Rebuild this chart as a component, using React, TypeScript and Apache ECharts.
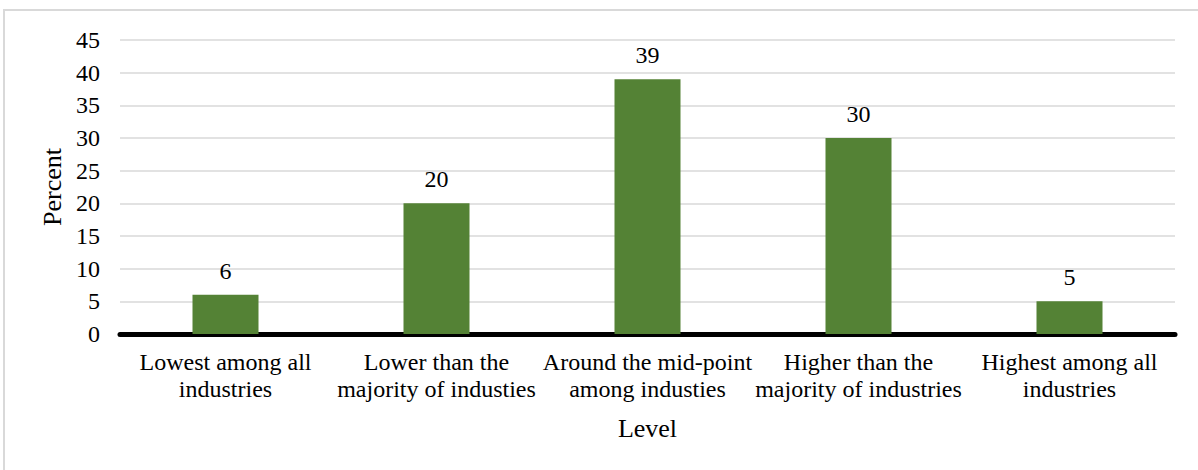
import React, { useEffect, useRef } from "react";
import * as echarts from "echarts";

const categories = [
  "Lowest among all\nindustries",
  "Lower than the\nmajority of industies",
  "Around the mid-point\namong industies",
  "Higher than the\nmajority of industries",
  "Highest among all\nindustries",
];
const values = [6, 20, 39, 30, 5];
const yMin = 0;
const yMax = 45;
const yStep = 5;

const FONT = "Liberation Serif";

export default function App() {
  const ref = useRef<HTMLDivElement>(null);
  useEffect(() => {
    if (!ref.current) return;
    const chart = echarts.init(ref.current, undefined, { renderer: "svg" });
    chart.setOption({
      animation: false,
      backgroundColor: "#ffffff",
      textStyle: { fontFamily: FONT },
      graphic: [
        {
          type: "rect",
          shape: { x: 4, y: 10, width: 1210, height: 480 },
          style: { fill: "none", stroke: "#d9d9d9", lineWidth: 2 },
          silent: true,
        },
      ],
      grid: { left: 120, right: 23, top: 40, bottom: 136 },
      xAxis: {
        type: "category",
        data: categories,
        name: "Level",
        nameLocation: "middle",
        nameGap: 81,
        nameTextStyle: { fontFamily: FONT, fontSize: 26, color: "#000" },
        axisLine: { show: true, lineStyle: { color: "#000", width: 5 } },
        axisTick: { show: false },
        axisLabel: {
          interval: 0,
          fontFamily: FONT,
          fontSize: 24,
          color: "#000",
          lineHeight: 27,
          margin: 14,
        },
      },
      yAxis: {
        type: "value",
        min: yMin,
        max: yMax,
        interval: yStep,
        name: "Percent",
        nameLocation: "middle",
        nameGap: 52,
        nameRotate: 90,
        nameTextStyle: { fontFamily: FONT, fontSize: 26, color: "#000" },
        axisLine: { show: false },
        axisTick: { show: false },
        axisLabel: {
          fontFamily: FONT,
          fontSize: 24,
          color: "#000",
          margin: 20,
        },
        splitLine: { lineStyle: { color: "#d9d9d9", width: 1.5 } },
      },
      series: [
        {
          type: "bar",
          data: values,
          barWidth: 66,
          itemStyle: { color: "#548235" },
          label: {
            show: true,
            position: "top",
            distance: 12,
            fontFamily: FONT,
            fontSize: 24,
            color: "#000",
          },
        },
      ],
    });
    return () => chart.dispose();
  }, []);
  return (
    <div
      ref={ref}
      style={{ position: "absolute", left: 0, top: 0, width: 1198, height: 470 }}
    />
  );
}
